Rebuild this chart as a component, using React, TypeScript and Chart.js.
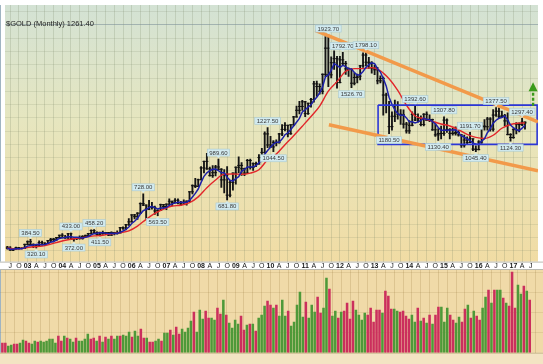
import React, { useEffect, useRef } from 'react';
import { Chart, registerables } from 'chart.js';

Chart.register(...registerables);

const FONT = '"Liberation Sans", Arial, sans-serif';

// Monthly bars, index 0 = Jun 2002 ... 179 = May 2017
const opens = [
  326, 318, 304, 312, 323, 317, 316,
  347, 367, 347, 334, 336, 361, 346, 354, 375, 385, 386, 398,
  416, 400, 396, 427, 387, 393, 395, 391, 407, 415, 428, 452,
  438, 422, 435, 429, 436, 417, 437, 429, 433, 473, 470, 495,
  517, 569, 556, 582, 654, 643, 613, 632, 624, 599, 604, 646,
  632, 650, 672, 662, 679, 659, 650, 665, 673, 743, 789, 783,
  834, 923, 972, 916, 865, 887, 930, 913, 833, 871, 718, 814,
  884, 928, 942, 917, 884, 979, 927, 955, 953, 1001, 1040, 1179,
  1096, 1081, 1116, 1113, 1179, 1213, 1244, 1181, 1248, 1307, 1357, 1386,
  1421, 1332, 1410, 1439, 1556, 1536, 1500, 1628, 1825, 1624, 1715, 1746,
  1566, 1737, 1710, 1669, 1664, 1561, 1604, 1614, 1692, 1773, 1719, 1713,
  1675, 1662, 1579, 1597, 1472, 1393, 1234, 1312, 1396, 1327, 1323, 1253,
  1202, 1244, 1326, 1284, 1296, 1250, 1327, 1282, 1287, 1210, 1172, 1182,
  1183, 1283, 1213, 1183, 1184, 1190, 1172, 1095, 1133, 1115, 1142, 1065,
  1061, 1118, 1238, 1233, 1291, 1215, 1321, 1350, 1309, 1316, 1277, 1174,
  1152, 1211, 1252, 1249, 1268,
];
const highs = [
  332, 330, 316, 326, 325, 323, 349,
  373, 384.5, 352, 341, 374, 372, 361, 378, 393, 392, 400, 417,
  428, 416, 431, 433, 396, 399, 411, 414, 418, 431, 456, 458.2,
  441, 440, 447, 438, 437, 442, 438, 449, 475, 479, 498, 541,
  572, 574, 587, 661, 728, 645, 678, 663, 636, 608, 650, 649,
  653, 690, 673, 693, 691, 671, 683, 676, 744, 795, 845, 839,
  934, 975, 1033, 930, 940, 943, 989.6, 918, 911, 934, 829, 886,
  932, 1006, 964, 921, 988, 989, 962, 967, 1023, 1070, 1195, 1227.5,
  1161, 1128, 1135, 1183, 1249, 1265, 1245, 1250, 1311, 1388, 1425, 1432,
  1425, 1411, 1447, 1576, 1577, 1557, 1632, 1913, 1923.7, 1760, 1804, 1764,
  1763, 1792.7, 1726, 1676, 1670, 1640, 1630, 1695, 1790, 1798.1, 1755, 1723,
  1696, 1681, 1617, 1607, 1487, 1424, 1346, 1434, 1423, 1362, 1361, 1267,
  1280, 1345, 1392.6, 1331, 1315, 1332, 1345, 1323, 1290, 1256, 1220, 1239,
  1307.8, 1292, 1220, 1224, 1232, 1205, 1174, 1170, 1157, 1191.7, 1143, 1089,
  1128, 1263, 1287, 1304, 1303, 1362, 1377.5, 1375, 1352, 1326, 1338, 1181,
  1220, 1264, 1262, 1297.4, 1270,
];
const lows = [
  312, 302, 300, 311, 311, 313, 315,
  343, 344, 322, 320.1, 334, 341, 340, 352, 368, 366, 375, 398,
  396, 392, 393, 382, 372, 382, 386, 387, 397, 410, 424, 428,
  417, 411.5, 423, 421, 413, 414, 418, 425, 433, 460, 456, 490,
  515, 538, 536, 580, 638, 542, 608, 613, 573, 563.5, 604, 615,
  608, 646, 636, 660, 651, 640, 648, 642, 669, 727, 775, 781,
  832, 885, 911, 860, 851, 862, 909, 776, 735, 681.8, 705, 755,
  800, 888, 866, 865, 883, 914, 905, 933, 951, 1001, 1034, 1075,
  1075, 1044.5, 1088, 1110, 1165, 1201, 1157, 1175, 1242, 1305, 1330, 1356,
  1309, 1326, 1381, 1418, 1462, 1478, 1480, 1610, 1535, 1601, 1665, 1523,
  1563, 1695, 1627, 1613, 1526.7, 1548, 1564, 1586, 1680, 1692, 1672, 1636,
  1625, 1555, 1563, 1321, 1338, 1180.5, 1207, 1272, 1290, 1251, 1222, 1185,
  1182, 1240, 1278, 1268, 1240, 1240, 1280, 1272, 1205, 1161, 1130.4, 1142,
  1167, 1190, 1142, 1170, 1170, 1162, 1077, 1080, 1098, 1113, 1052, 1045.4,
  1058, 1107, 1208, 1207, 1200, 1200, 1311, 1302, 1303, 1241, 1171, 1124.3,
  1146, 1180, 1194, 1241, 1214,
];
const closes = [
  318, 304, 312, 323, 317, 316, 347,
  367, 347, 334, 336, 361, 346, 354, 375, 385, 386, 398, 416,
  400, 396, 427, 387, 393, 395, 391, 407, 415, 428, 452, 438,
  422, 435, 429, 436, 417, 437, 429, 433, 473, 470, 495, 517,
  569, 556, 582, 654, 643, 613, 632, 624, 599, 604, 646, 632,
  650, 672, 662, 679, 659, 650, 665, 673, 743, 789, 783, 834,
  923, 972, 916, 865, 887, 930, 913, 833, 871, 718, 814, 884,
  928, 942, 917, 884, 979, 927, 955, 953, 1001, 1040, 1179, 1096,
  1081, 1116, 1113, 1179, 1213, 1244, 1181, 1248, 1307, 1357, 1386, 1421,
  1332, 1410, 1439, 1556, 1536, 1500, 1628, 1825, 1624, 1715, 1746, 1566,
  1737, 1710, 1669, 1664, 1561, 1604, 1614, 1692, 1773, 1719, 1713, 1675,
  1662, 1579, 1597, 1472, 1393, 1234, 1312, 1396, 1327, 1323, 1253, 1202,
  1244, 1326, 1284, 1296, 1250, 1327, 1282, 1287, 1210, 1172, 1182, 1183,
  1283, 1213, 1183, 1184, 1190, 1172, 1095, 1133, 1115, 1142, 1065, 1061,
  1118, 1238, 1233, 1291, 1215, 1321, 1350, 1309, 1316, 1277, 1174, 1152,
  1211, 1252, 1249, 1268, 1261.4,
];
const volumes = [
  10, 10, 7, 8, 9, 9, 10,
  13, 12, 10, 9, 12, 11, 12, 11, 12, 14, 14, 10,
  17, 12, 17, 15, 14, 11, 15, 12, 12, 14, 19, 14,
  15, 12, 17, 11, 16, 14, 17, 14, 17, 17, 18, 17,
  21, 16, 22, 17, 24, 15, 15, 11, 11, 12, 14, 12,
  20, 20, 23, 18, 26, 19, 24, 21, 25, 32, 41, 21,
  43, 34, 42, 35, 35, 33, 45, 39, 53, 38, 30, 25,
  33, 29, 37, 23, 28, 29, 29, 22, 35, 38, 47, 52,
  48, 45, 48, 37, 53, 37, 42, 27, 31, 48, 61, 36,
  51, 35, 48, 41, 56, 40, 45, 75, 64, 37, 42, 35,
  41, 42, 50, 34, 52, 43, 38, 33, 40, 38, 45, 31,
  43, 43, 40, 62, 57, 44, 44, 42, 41, 42, 37, 34,
  38, 31, 45, 32, 35, 30, 38, 29, 38, 46, 46, 31,
  45, 38, 33, 30, 36, 31, 44, 48, 35, 42, 37, 33,
  45, 56, 63, 50, 63, 63, 63, 55, 50, 47, 81, 45,
  68, 59, 67, 62, 53,
];
// Blue moving average (monthly)
const blueMa = [
  318, 311, 311, 314, 315, 315, 323,
  334, 339, 343, 346, 349, 345, 346, 354, 364, 369, 380, 392,
  397, 399, 407, 405, 401, 400, 399, 395, 400, 407, 419, 428,
  431, 435, 435, 432, 428, 431, 430, 430, 438, 448, 460, 478,
  505, 521, 544, 576, 601, 610, 625, 633, 622, 614, 621, 621,
  626, 641, 652, 659, 664, 664, 663, 665, 678, 704, 731, 764,
  814, 860, 886, 902, 913, 914, 902, 886, 887, 853, 830, 824,
  843, 857, 897, 911, 930, 930, 932, 940, 963, 976, 1026, 1054,
  1079, 1102, 1117, 1117, 1140, 1173, 1186, 1213, 1239, 1267, 1296, 1344,
  1361, 1381, 1398, 1432, 1455, 1488, 1532, 1609, 1623, 1658, 1708, 1695,
  1678, 1695, 1686, 1669, 1668, 1642, 1622, 1627, 1649, 1680, 1702, 1714,
  1708, 1670, 1645, 1597, 1541, 1455, 1402, 1361, 1332, 1318, 1322, 1300,
  1270, 1270, 1262, 1270, 1280, 1297, 1288, 1288, 1271, 1256, 1227, 1207,
  1206, 1207, 1209, 1209, 1210, 1188, 1165, 1155, 1141, 1131, 1110, 1103,
  1100, 1125, 1143, 1188, 1219, 1260, 1282, 1297, 1302, 1315, 1285, 1246,
  1226, 1210, 1204, 1223, 1245,
];
// Red moving average (sampled quarterly)
const redMaIdx = [0, 3, 6, 9, 12, 15, 18, 21, 24, 27, 30, 33, 36, 39, 42, 45, 48, 51, 54, 57, 60, 63, 66, 69, 72, 75, 78, 81, 84, 87, 90, 93, 96, 99, 102, 105, 108, 111, 114, 117, 120, 123, 126, 129, 132, 135, 138, 141, 144, 147, 150, 153, 156, 159, 162, 165, 168, 171, 174, 177, 179];
const redMa = [318, 314, 320, 329, 334, 349, 367, 382, 393, 401, 411, 416, 426, 436, 449, 485, 536, 580, 613, 636, 642, 661, 705, 774, 832, 876, 877, 875, 884, 909, 984, 1027, 1098, 1166, 1237, 1310, 1389, 1501, 1573, 1651, 1671, 1671, 1678, 1654, 1594, 1507, 1396, 1314, 1295, 1274, 1254, 1239, 1212, 1175, 1153, 1145, 1169, 1222, 1250, 1260, 1262];

// Axis ticks (quarterly)
const axisTickIdx = [1, 4, 7, 10, 13, 16, 19, 22, 25, 28, 31, 34, 37, 40, 43, 46, 49, 52, 55, 58, 61, 64, 67, 70, 73, 76, 79, 82, 85, 88, 91, 94, 97, 100, 103, 106, 109, 112, 115, 118, 121, 124, 127, 130, 133, 136, 139, 142, 145, 148, 151, 154, 157, 160, 163, 166, 169, 172, 175, 178, 181];
const axisTickLabels = ['J', 'O', '03', 'A', 'J', 'O', '04', 'A', 'J', 'O', '05', 'A', 'J', 'O', '06', 'A', 'J', 'O', '07', 'A', 'J', 'O', '08', 'A', 'J', 'O', '09', 'A', 'J', 'O', '10', 'A', 'J', 'O', '11', 'A', 'J', 'O', '12', 'A', 'J', 'O', '13', 'A', 'J', 'O', '14', 'A', 'J', 'O', '15', 'A', 'J', 'O', '16', 'A', 'J', 'O', '17', 'A', 'J'];
const priceGridLevels = [300, 400, 500, 600, 700, 800, 900, 1000, 1100, 1200, 1300, 1400, 1500, 1600, 1700, 1800, 1900, 2000, 2100];
const volumeGridLevels = [20, 40, 60, 80];

// Annotated highs/lows
const peakIdx = [8, 10, 22, 23, 30, 32, 47, 52, 73, 76, 90, 92, 111, 116, 119, 124, 132, 141, 149, 151, 160, 162, 169, 174, 178];
const peakPrice = [384.5, 320.1, 433.0, 372.0, 458.2, 411.5, 728.0, 563.5, 989.6, 681.8, 1227.5, 1044.5, 1923.7, 1792.7, 1526.7, 1798.1, 1180.5, 1392.6, 1130.4, 1307.8, 1191.7, 1045.4, 1377.5, 1124.3, 1297.4];
const peakIsHigh = [1, 0, 1, 0, 1, 0, 1, 0, 1, 0, 1, 0, 1, 1, 0, 1, 0, 1, 0, 1, 1, 0, 1, 0, 1];

// Drawn trend lines, box and arrow (data coordinates)
const upperTrendIdx = [106.5, 183.5];
const upperTrendPrice = [1958, 1270];
const lowerTrendIdx = [111.2, 183.5];
const lowerTrendPrice = [1248, 901];
const boxIdx = [128.2, 183.2, 183.2, 128.2, 128.2];
const boxPrice = [1396, 1396, 1100.6, 1100.6, 1396];
const arrowIdx = [181.8, 181.8];
const arrowPrice = [1392, 1568];

const X_MIN = -0.81;
const X_MAX = 183.5;

const bgPlugin = {
  id: 'bg',
  beforeDraw(chart: any, _args: any, opts: any) {
    const { ctx, chartArea: a, width, height } = chart;
    ctx.save();
    if (opts.kind === 'price') {
      ctx.fillStyle = '#ffffff';
      ctx.fillRect(0, 0, width, height);
      const g = ctx.createLinearGradient(0, a.top, 0, a.bottom);
      g.addColorStop(0, '#d3e2d4');
      g.addColorStop(0.45, '#e6e6bf');
      g.addColorStop(1, '#f1dca4');
      ctx.fillStyle = g;
      ctx.fillRect(a.left, a.top, a.right - a.left, a.bottom - a.top);
      ctx.strokeStyle = '#b9b9b0';
      ctx.lineWidth = 1;
      ctx.beginPath();
      ctx.moveTo(0, a.bottom + 0.5);
      ctx.lineTo(width, a.bottom + 0.5);
      ctx.moveTo(0, height - 0.5);
      ctx.lineTo(width, height - 0.5);
      ctx.stroke();
    } else {
      ctx.fillStyle = '#f3e4c3';
      ctx.fillRect(0, 0, width, height);
      ctx.fillStyle = '#f0daa8';
      ctx.fillRect(a.left, a.top, a.right - a.left, a.bottom - a.top);
      ctx.strokeStyle = '#c9b88f';
      ctx.lineWidth = 1;
      ctx.beginPath();
      ctx.moveTo(0, a.bottom + 0.5);
      ctx.lineTo(width, a.bottom + 0.5);
      ctx.stroke();
    }
    ctx.strokeStyle = '#9fb4c2';
    ctx.beginPath();
    ctx.moveTo(0.5, a.top);
    ctx.lineTo(0.5, a.bottom);
    ctx.stroke();
    ctx.restore();
  },
};

const labelPlugin = {
  id: 'peakLabels',
  afterDatasetsDraw(chart: any) {
    const { ctx, scales } = chart;
    const x = scales.x;
    const y = scales.y;
    ctx.save();
    ctx.font = `6px ${FONT}`;
    ctx.textAlign = 'center';
    ctx.textBaseline = 'middle';
    peakIdx.forEach((idx, k) => {
      const px = x.getPixelForValue(idx);
      const py = y.getPixelForValue(peakPrice[k]);
      const text = peakPrice[k].toFixed(2);
      const w = ctx.measureText(text).width + 4;
      const h = 7;
      const high = peakIsHigh[k] === 1;
      const cy = high ? py - 6.5 : py + 6.5;
      ctx.fillStyle = '#d2eaef';
      ctx.fillRect(px - w / 2, cy - h / 2, w, h);
      ctx.strokeStyle = '#a9cad3';
      ctx.lineWidth = 0.6;
      ctx.strokeRect(px - w / 2, cy - h / 2, w, h);
      ctx.fillStyle = '#d2eaef';
      ctx.beginPath();
      if (high) {
        ctx.moveTo(px - 2, cy + h / 2);
        ctx.lineTo(px + 2, cy + h / 2);
        ctx.lineTo(px, cy + h / 2 + 2);
      } else {
        ctx.moveTo(px - 2, cy - h / 2);
        ctx.lineTo(px + 2, cy - h / 2);
        ctx.lineTo(px, cy - h / 2 - 2);
      }
      ctx.fill();
      ctx.fillStyle = '#3a3a3a';
      ctx.fillText(text, px, cy + 0.3);
    });
    // green dashed arrow
    const ax = x.getPixelForValue(arrowIdx[0]);
    const yBase = y.getPixelForValue(arrowPrice[0]);
    const yTip = y.getPixelForValue(arrowPrice[1]);
    ctx.strokeStyle = '#3a9a1a';
    ctx.fillStyle = '#3a9a1a';
    ctx.lineWidth = 2.4;
    ctx.setLineDash([3, 2]);
    ctx.beginPath();
    ctx.moveTo(ax, yBase);
    ctx.lineTo(ax, yTip + 8);
    ctx.stroke();
    ctx.setLineDash([]);
    ctx.beginPath();
    ctx.moveTo(ax, yTip);
    ctx.lineTo(ax - 4.5, yTip + 9);
    ctx.lineTo(ax + 4.5, yTip + 9);
    ctx.closePath();
    ctx.fill();
    ctx.restore();
  },
};

function setTicks(values: number[]) {
  return (scale: any) => {
    scale.ticks = values.map((v) => ({ value: v }));
  };
}

export default function App() {
  const priceRef = useRef<HTMLCanvasElement>(null);
  const volRef = useRef<HTMLCanvasElement>(null);

  useEffect(() => {
    Chart.defaults.font.family = FONT;
    const priceChart = new Chart(priceRef.current as HTMLCanvasElement, {
      type: 'bar',
      data: {
        datasets: [
          {
            type: 'line',
            data: upperTrendIdx.map((v, k) => ({ x: v, y: upperTrendPrice[k] })),
            borderColor: '#f29a4a',
            borderWidth: 3.5,
            pointRadius: 0,
            order: 0,
          },
          {
            type: 'line',
            data: lowerTrendIdx.map((v, k) => ({ x: v, y: lowerTrendPrice[k] })),
            borderColor: '#f29a4a',
            borderWidth: 3.5,
            pointRadius: 0,
            order: 0,
          },
          {
            type: 'line',
            data: boxIdx.map((v, k) => ({ x: v, y: boxPrice[k] })),
            borderColor: '#2b36d6',
            borderWidth: 1.6,
            pointRadius: 0,
            order: 1,
          },
          {
            type: 'line',
            data: blueMa.map((v, i) => ({ x: i, y: v })),
            borderColor: '#1d20a8',
            borderWidth: 1.5,
            pointRadius: 0,
            order: 2,
          },
          {
            type: 'line',
            data: redMaIdx.map((v, k) => ({ x: v, y: redMa[k] })),
            borderColor: '#e2262a',
            borderWidth: 1.4,
            pointRadius: 0,
            cubicInterpolationMode: 'monotone',
            order: 2.5,
          },
          {
            type: 'line',
            data: closes.map((v, i) => ({ x: i, y: v })),
            showLine: false,
            pointStyle: 'line',
            pointRadius: 1.5,
            pointBorderWidth: 1,
            borderColor: '#111111',
            order: 3,
          },
          {
            type: 'line',
            data: opens.map((v, i) => ({ x: i, y: v })),
            showLine: false,
            pointStyle: 'line',
            pointRadius: 1.5,
            pointBorderWidth: 1,
            borderColor: '#111111',
            order: 3,
          },
          {
            type: 'bar',
            data: lows.map((v, i) => ({ x: i, y: [v, highs[i]] })),
            backgroundColor: '#151515',
            barThickness: 1.2,
            order: 4,
          },
        ] as any,
      },
      options: {
        responsive: false,
        animation: false,
        devicePixelRatio: 1,
        events: [],
        layout: { padding: 0 },
        plugins: {
          legend: { display: false },
          tooltip: { enabled: false },
          bg: { kind: 'price' },
        } as any,
        scales: {
          x: {
            type: 'linear',
            min: X_MIN,
            max: X_MAX,
            offset: false,
            position: 'bottom',
            grid: { color: 'rgba(120,130,100,0.22)', drawTicks: false, offset: false },
            border: { display: false },
            ticks: {
              autoSkip: false,
              maxRotation: 0,
              minRotation: 0,
              padding: 0,
              color: '#1a1a1a',
              font: (c: any) => ({
                family: FONT,
                size: 7,
                weight: /\d/.test(axisTickLabels[c.index] || '') ? 'bold' : 'normal',
              }),
              callback: (_v: any, idx: number) => axisTickLabels[idx],
            },
            afterBuildTicks: setTicks(axisTickIdx),
          },
          y: {
            type: 'linear',
            min: 217.5,
            max: 2150,
            ticks: { display: false },
            grid: {
              drawTicks: false,
              color: (c: any) =>
                c.tick && c.tick.value === 2000 ? 'rgba(120,140,150,0.55)' : 'rgba(120,130,100,0.16)',
            },
            border: { display: false },
            afterBuildTicks: setTicks(priceGridLevels),
          },
        } as any,
      },
      plugins: [bgPlugin, labelPlugin],
    } as any);

    const volChart = new Chart(volRef.current as HTMLCanvasElement, {
      type: 'bar',
      data: {
        datasets: [
          {
            data: volumes.map((v, i) => ({ x: i, y: v })),
            backgroundColor: volumes.map((_v, i) => (closes[i] >= opens[i] ? '#4e9939' : '#cb2f5d')),
            borderWidth: 0,
            barPercentage: 0.86,
            categoryPercentage: 1,
          },
        ],
      },
      options: {
        responsive: false,
        animation: false,
        devicePixelRatio: 1,
        events: [],
        layout: { padding: { left: 0, right: 0, top: 0, bottom: 11.3 } },
        plugins: {
          legend: { display: false },
          tooltip: { enabled: false },
          bg: { kind: 'volume' },
        } as any,
        scales: {
          x: {
            type: 'linear',
            min: X_MIN,
            max: X_MAX,
            offset: false,
            grid: { color: 'rgba(150,120,60,0.22)', drawTicks: false, offset: false },
            border: { display: false },
            ticks: { display: false },
            afterBuildTicks: setTicks(axisTickIdx),
          },
          y: {
            min: 0,
            max: 82.7,
            ticks: { display: false },
            grid: { drawTicks: false, color: 'rgba(150,120,60,0.16)' },
            border: { display: false },
            afterBuildTicks: setTicks(volumeGridLevels),
          },
        } as any,
      },
      plugins: [bgPlugin],
    } as any);

    return () => {
      priceChart.destroy();
      volChart.destroy();
    };
  }, []);

  return (
    <div style={{ position: 'absolute', left: 0, top: 0, width: 543, height: 364, overflow: 'hidden' }}>
      <canvas ref={priceRef} width={543} height={270} style={{ position: 'absolute', left: 0, top: 0 }} />
      <canvas ref={volRef} width={543} height={94} style={{ position: 'absolute', left: 0, top: 270 }} />
      <div
        style={{
          position: 'absolute',
          left: 6,
          top: 19,
          font: `7.5px ${FONT}`,
          color: '#222',
          whiteSpace: 'nowrap',
          lineHeight: '9px',
        }}
      >
        $GOLD (Monthly) 1261.40
      </div>
    </div>
  );
}
